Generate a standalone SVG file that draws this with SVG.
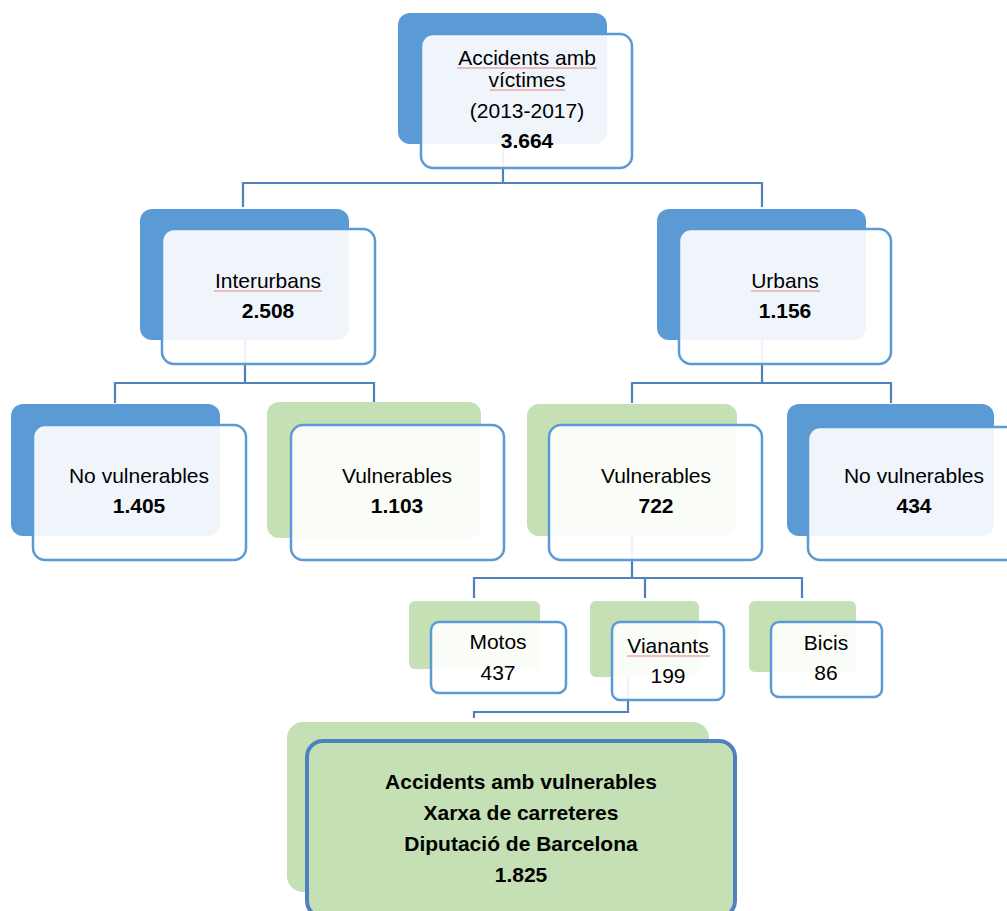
<svg xmlns="http://www.w3.org/2000/svg" width="1007" height="911" viewBox="0 0 1007 911">
<style>
.bb{fill:#5B9BD5}
.bg{fill:#C5E0B4}
.fr{fill:#FFFFFF;fill-opacity:0.9;stroke:#5B9BD5;stroke-width:2.5}
.fb{fill:#C5E0B4;stroke:#4F81BD;stroke-width:4}
.t{font-family:"Liberation Sans",Arial,sans-serif;font-size:21px;fill:#000;text-anchor:middle}
.b{font-weight:bold}
.c{fill:none;stroke:#4F81BD;stroke-width:2.2}
.sp{fill:none;stroke:#E88080;stroke-width:1}
</style>
<rect width="1007" height="911" fill="#FFFFFF"/>
<g id="connectors">
<path class="c" d="M503,143 V183 M243,207 V183 H762 V207"/>
<path class="c" d="M245,340 V383 M115,403 V383 H374 V403"/>
<path class="c" d="M762,340 V383 M632,403 V383 H891 V403"/>
<path class="c" d="M632,536 V578 M474,598 V578 H802 V598 M645,578 V598"/>
<path class="c" d="M628,677 V712 H474 V718"/>
</g>
<g id="n-total">
<rect class="bb" x="398" y="13" width="209" height="131" rx="12"/>
<rect class="fr" x="421" y="34" width="211" height="134" rx="12"/>
<text class="t" x="527" y="65">Accidents amb</text>
<text class="t" x="527" y="87">víctimes</text>
<text class="t" x="527" y="118">(2013-2017)</text>
<text class="t b" x="527" y="148">3.664</text>
<path class="sp" d="M457,68 H597 M490,90 H565"/>
</g>
<g id="n-interurbans">
<rect class="bb" x="140" y="209" width="209" height="131" rx="12"/>
<rect class="fr" x="162" y="229" width="213" height="135" rx="12"/>
<text class="t" x="268" y="288">Interurbans</text>
<text class="t b" x="268" y="318">2.508</text>
<path class="sp" d="M214,291 H322"/>
</g>
<g id="n-urbans">
<rect class="bb" x="657" y="209" width="209" height="131" rx="12"/>
<rect class="fr" x="679" y="229" width="212" height="135" rx="12"/>
<text class="t" x="785" y="288">Urbans</text>
<text class="t b" x="785" y="318">1.156</text>
<path class="sp" d="M751,291 H820"/>
</g>
<g id="n-inter-novuln">
<rect class="bb" x="11" y="404" width="209" height="132" rx="12"/>
<rect class="fr" x="33" y="425" width="213" height="135" rx="12"/>
<text class="t" x="139" y="483">No vulnerables</text>
<text class="t b" x="139" y="513">1.405</text>
</g>
<g id="n-inter-vuln">
<rect class="bg" x="267" y="402" width="214" height="136" rx="12"/>
<rect class="fr" x="291" y="425" width="213" height="135" rx="12"/>
<text class="t" x="397" y="483">Vulnerables</text>
<text class="t b" x="397" y="513">1.103</text>
</g>
<g id="n-urb-vuln">
<rect class="bg" x="527" y="404" width="210" height="132" rx="12"/>
<rect class="fr" x="549" y="425" width="213" height="135" rx="12"/>
<text class="t" x="656" y="483">Vulnerables</text>
<text class="t b" x="656" y="513">722</text>
</g>
<g id="n-urb-novuln">
<rect class="bb" x="787" y="404" width="207" height="132" rx="12"/>
<rect class="fr" x="808" y="427" width="215" height="133" rx="12"/>
<text class="t" x="914" y="483">No vulnerables</text>
<text class="t b" x="914" y="513">434</text>
</g>
<g id="n-motos">
<rect class="bg" x="409" y="601" width="131" height="68" rx="6"/>
<rect class="fr" x="431" y="622" width="135" height="71" rx="8"/>
<text class="t" x="498" y="649">Motos</text>
<text class="t" x="498" y="680">437</text>
</g>
<g id="n-vianants">
<rect class="bg" x="590" y="601" width="109" height="76" rx="6"/>
<rect class="fr" x="612" y="622" width="112" height="78" rx="8"/>
<text class="t" x="668" y="653">Vianants</text>
<text class="t" x="668" y="683">199</text>
<path class="sp" d="M627,656 H710"/>
</g>
<g id="n-bicis">
<rect class="bg" x="749" y="601" width="107" height="71" rx="6"/>
<rect class="fr" x="771" y="622" width="111" height="75" rx="8"/>
<text class="t" x="826" y="650">Bicis</text>
<text class="t" x="826" y="680">86</text>
</g>
<g id="n-result">
<rect class="bg" x="287" y="722" width="422" height="170" rx="16"/>
<rect class="fb" x="307" y="741" width="428" height="176" rx="16"/>
<text class="t b" x="521" y="789">Accidents amb vulnerables</text>
<text class="t b" x="521" y="820">Xarxa de carreteres</text>
<text class="t b" x="521" y="851">Diputació de Barcelona</text>
<text class="t b" x="521" y="882">1.825</text>
</g>
</svg>
